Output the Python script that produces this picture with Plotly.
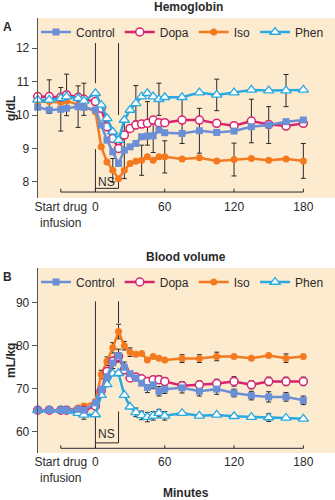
import plotly.graph_objects as go

# ---------------- data ----------------
T = [-50, -40, -30, -25, -15, -10, 0, 5, 10, 15, 20, 25, 30, 35, 40, 45, 50, 55, 60,
     75, 90, 105, 120, 135, 150, 165, 180]

SERIES = ["Control", "Dopa", "Iso", "Phen"]

# Panel A: Hemoglobin (g/dL)
CTRL_A = [10.23, 10.15, 10.17, 10.2, 10.25, 10.23, 10.15, 9.7, 9.25, 8.9, 8.55, 8.95, 9.05,
          9.15, 9.35, 9.37, 9.38, 9.55, 9.47, 9.45, 9.53, 9.48, 9.52, 9.65, 9.7, 9.8, 9.85]
DOPA_A = [10.55, 10.55, 10.53, 10.6, 10.53, 10.47, 10.4, 10.2, 9.65, 9.3, 9.0, 9.4, 9.6,
          9.7, 9.73, 9.75, 9.85, 9.77, 9.77, 9.85, 9.85, 9.75, 9.68, 9.82, 9.72, 9.67, 9.75]
ISO_A = [10.4, 10.4, 10.38, 10.42, 10.3, 10.25, 10.1, 9.05, 8.6, 8.35, 8.1, 8.35, 8.55,
         8.62, 8.65, 8.75, 8.65, 8.75, 8.75, 8.69, 8.72, 8.63, 8.67, 8.7, 8.65, 8.69, 8.63]
PHEN_A = [10.45, 10.45, 10.5, 10.55, 10.5, 10.42, 10.65, 10.3, 9.9, 9.5, 9.25, 9.85, 10.15,
          10.35, 10.55, 10.65, 10.55, 10.47, 10.53, 10.53, 10.67, 10.6, 10.67, 10.75, 10.73,
          10.73, 10.75]

# error bars panel A (time, +/-)
CTRL_A_ERR_T = [-30, -15, 25, 50, 90, 150]
CTRL_A_ERR = [0.65, 0.62, 0.85, 0.5, 0.67, 0.55]
DOPA_A_ERR_T = [-40, -25, -10, 45, 75, 135]
DOPA_A_ERR = [0.5, 0.62, 0.48, 0.65, 0.7, 0.65]
ISO_A_ERR_T = [15, 40, 60, 120, 180]
ISO_A_ERR = [0.35, 0.45, 0.48, 0.49, 0.52]
PHEN_A_ERR_T = [35, 55, 105, 165]
PHEN_A_ERR = [0.53, 0.48, 0.47, 0.48]

# Panel B: Blood volume (mL/kg)
CTRL_B = [65, 65, 65, 65, 65.2, 65, 66.7, 69.8, 72.8, 76.0, 77.7, 75.0, 73.5, 72.5, 71.3,
          70.3, 70.9, 69.4, 69.9, 70.2, 69.4, 69.9, 69.0, 68.4, 68.1, 68.1, 67.3]
DOPA_B = [65, 65, 65, 65, 65, 65, 66, 69.5, 74, 76.4, 77.5, 74.4, 72.5, 72.7, 72.3, 71.7,
          72.1, 72.1, 71.7, 70.7, 70.9, 71.2, 71.7, 70.9, 71.7, 71.7, 71.7]
ISO_B = [65, 65, 65, 65, 65.5, 66.0, 67.0, 73.3, 76.4, 79.5, 83.3, 80.0, 78.5, 78.0, 78.2,
         76.7, 77.5, 77.1, 76.7, 77.0, 77.0, 77.5, 77.5, 77.1, 77.7, 77.1, 77.5]
PHEN_B = [65, 65, 65, 64.8, 64.3, 63.9, 64.0, 68.5, 71.0, 73.5, 73.6, 68.5, 65.8, 64.5,
          63.8, 63.4, 63.7, 64.3, 63.7, 64.3, 63.7, 63.9, 63.6, 63.4, 63.3, 63.2, 63.0]

CTRL_B_ERR_T = [15, 20, 25, 45, 50, 55, 60, 75, 90, 105, 120, 135, 150, 165, 180]
CTRL_B_ERR = [1.3, 1.5, 1.2, 1.2, 0.9, 1.1, 1.0, 1.2, 1.1, 1.2, 0.9, 1.0, 1.2, 1.0, 1.0]
DOPA_B_ERR_T = [55, 60, 75, 90, 105, 120, 135, 150, 165, 180]
DOPA_B_ERR = [0.9, 0.9, 0.9, 0.9, 1.0, 1.1, 0.9, 1.0, 1.0, 1.0]
ISO_B_ERR_T = [5, 10, 15, 20, 25, 30, 75, 90, 105, 165]
ISO_B_ERR = [1.0, 1.0, 1.2, 1.7, 1.0, 1.0, 0.9, 0.9, 1.0, 1.0]
PHEN_B_ERR_T = [-10, 35, 40, 45, 50, 55, 60, 150]
PHEN_B_ERR = [1.0, 1.0, 1.0, 1.1, 1.0, 0.9, 1.0, 0.9]

XTICK_VALS = [-30, 0, 60, 120, 180]
XTICK_TEXT = ["Start drug<br>infusion", "0", "60", "120", "180"]
YTICKS_A = [8, 9, 10, 11, 12]
YTICKS_B = [60, 70, 80, 90]
NS_START, NS_END = 0, 20

# ---------------- style ----------------
BG = "#fdebd0"
INK = "#2a2a2a"
COL = {"Control": "#6b8fd4", "Dopa": "#d6246f", "Iso": "#f47a20", "Phen": "#2aa9e0"}
FONT = "Liberation Sans, Arial, Helvetica, sans-serif"
W, H = 335, 500


def px_x(p):
    return p / W


def px_y(p):
    return 1 - p / H


MARK = {
    "Control": dict(symbol="square", size=7, color=COL["Control"], line=dict(width=0)),
    "Dopa": dict(symbol="circle", size=8, color="white", line=dict(width=1.5, color=COL["Dopa"])),
    "Iso": dict(symbol="circle", size=7, color=COL["Iso"], line=dict(width=0)),
    "Phen": dict(symbol="triangle-up", size=9, color="white", line=dict(width=1.3, color=COL["Phen"])),
}

fig = go.Figure()

panels = [
    ("x", "y", "legend", {"Control": CTRL_A, "Dopa": DOPA_A, "Iso": ISO_A, "Phen": PHEN_A},
     {"Control": (CTRL_A_ERR_T, CTRL_A_ERR), "Dopa": (DOPA_A_ERR_T, DOPA_A_ERR),
      "Iso": (ISO_A_ERR_T, ISO_A_ERR), "Phen": (PHEN_A_ERR_T, PHEN_A_ERR)}),
    ("x2", "y2", "legend2", {"Control": CTRL_B, "Dopa": DOPA_B, "Iso": ISO_B, "Phen": PHEN_B},
     {"Control": (CTRL_B_ERR_T, CTRL_B_ERR), "Dopa": (DOPA_B_ERR_T, DOPA_B_ERR),
      "Iso": (ISO_B_ERR_T, ISO_B_ERR), "Phen": (PHEN_B_ERR_T, PHEN_B_ERR)}),
]

DRAW_ORDER = ["Iso", "Dopa", "Phen", "Control"]

for xa, ya, leg, data, errs in panels:
    # error bars first (behind)
    for name in DRAW_ORDER:
        et, ev = errs[name]
        ey = [data[name][T.index(t)] for t in et]
        fig.add_trace(go.Scatter(
            x=et, y=ey, mode="markers", xaxis=xa, yaxis=ya,
            marker=dict(size=1, color="rgba(0,0,0,0)"),
            error_y=dict(type="data", array=ev, color=INK, thickness=1, width=2.5),
            showlegend=False, hoverinfo="skip", cliponaxis=False))
    for name in DRAW_ORDER:
        fig.add_trace(go.Scatter(
            x=T, y=data[name], mode="lines+markers", name=name, xaxis=xa, yaxis=ya,
            line=dict(color=COL[name], width=2.5), marker=MARK[name],
            legend=leg, legendrank=SERIES.index(name) + 1, cliponaxis=False))

# ---------------- axes ----------------
xcommon = dict(range=[-50, 207.4], tickvals=XTICK_VALS, ticktext=XTICK_TEXT, tickangle=0,
               showline=False, showgrid=False, zeroline=False, ticks="",
               tickfont=dict(family=FONT, size=12, color=INK), fixedrange=True)
ycommon = dict(showline=True, linecolor="#555", linewidth=1, ticks="outside", ticklen=5,
               tickcolor="#555", showgrid=False, zeroline=False,
               tickfont=dict(family=FONT, size=12, color=INK), fixedrange=True)

DOM_X = [px_x(35), 1]
fig.update_layout(
    width=W, height=H, margin=dict(l=0, r=0, t=0, b=0),
    paper_bgcolor="white", plot_bgcolor=BG,
    font=dict(family=FONT, size=12, color=INK),
    xaxis=dict(domain=DOM_X, anchor="y", **xcommon),
    yaxis=dict(domain=[px_y(198), px_y(18)], anchor="x", range=[7.522, 12.896],
               tickvals=YTICKS_A, **ycommon),
    xaxis2=dict(domain=DOM_X, anchor="y2", **xcommon),
    yaxis2=dict(domain=[px_y(453), px_y(268)], anchor="x2", range=[55.05, 98.07],
                tickvals=YTICKS_B, **ycommon),
    legend=dict(orientation="h", x=px_x(329), xanchor="right", y=px_y(32), yanchor="middle",
                bgcolor="rgba(0,0,0,0)", font=dict(family=FONT, size=12, color=INK),
                itemwidth=30, tracegroupgap=0),
    legend2=dict(orientation="h", x=px_x(329), xanchor="right", y=px_y(282), yanchor="middle",
                 bgcolor="rgba(0,0,0,0)", font=dict(family=FONT, size=12, color=INK),
                 itemwidth=30, tracegroupgap=0),
    showlegend=True,
)

# ---------------- brackets / reference lines ----------------
shapes = []


def seg(xref, yref, x0, y0, x1, y1):
    shapes.append(dict(type="line", xref=xref, yref=yref, x0=x0, y0=y0, x1=x1, y1=y1,
                       line=dict(color=INK, width=1), layer="below"))


# panel A
seg("x", "y", NS_START, 12.15, NS_START, 10.95)
seg("x", "y", NS_START, 8.98, NS_START, 7.70)
seg("x", "y", NS_END, 12.15, NS_END, 10.0)
seg("x", "y", NS_END, 8.0, NS_END, 7.81)
seg("x", "y", NS_START, 7.81, NS_END, 7.81)
seg("x", "y", XTICK_VALS[0], 7.70, XTICK_VALS[-1], 7.70)
for tv in XTICK_VALS:
    seg("x", "y", tv, 7.70, tv, 7.80)
# panel B
seg("x2", "y2", NS_START, 90.3, NS_START, 56.14)
seg("x2", "y2", NS_END, 90.3, NS_END, 85.3)
seg("x2", "y2", NS_END, 64.7, NS_END, 57.4)
seg("x2", "y2", NS_START, 57.4, NS_END, 57.4)
seg("x2", "y2", XTICK_VALS[0], 56.14, XTICK_VALS[-1], 56.14)
for tv in XTICK_VALS:
    seg("x2", "y2", tv, 56.14, tv, 56.84)
fig.update_layout(shapes=shapes)

# ---------------- text ----------------
ann = []


def text(t, x, y, size=12, bold=False, angle=0, xref="paper", yref="paper", xanchor="center"):
    ann.append(dict(text=f"<b>{t}</b>" if bold else t, x=x, y=y, xref=xref, yref=yref,
                    xanchor=xanchor, yanchor="middle", showarrow=False, textangle=angle,
                    font=dict(family=FONT, size=size, color=INK)))


text("Hemoglobin", px_x(187), px_y(7), bold=True)
text("Blood volume", px_x(185), px_y(257), bold=True)
text("Minutes", px_x(185), px_y(493), bold=True)
text("A", px_x(5), px_y(27), bold=True)
text("B", px_x(5), px_y(277), bold=True)
text("g/dL", px_x(8), px_y(108), bold=True, angle=-90)
text("mL/kg", px_x(8), px_y(360), bold=True, angle=-90)
text("NS", (NS_START + NS_END) / 2, 7.99, xref="x", yref="y")
text("NS", (NS_START + NS_END) / 2, 59.5, xref="x2", yref="y2")
fig.update_layout(annotations=ann)

fig.write_html("out.html")
